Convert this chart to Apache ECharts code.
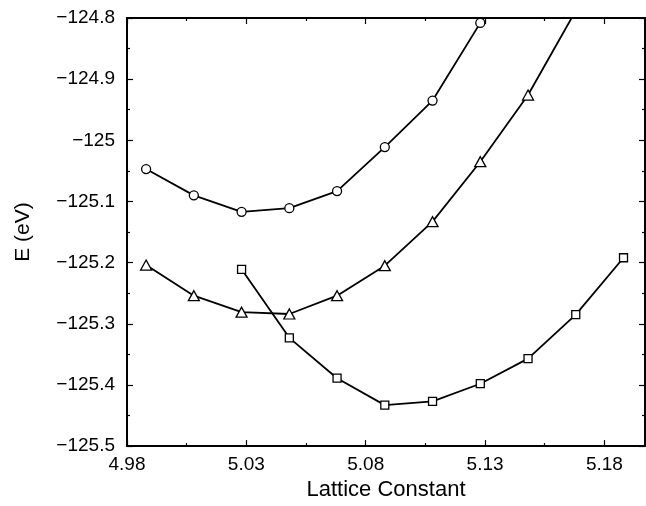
<!DOCTYPE html>
<html>
<head>
<meta charset="utf-8">
<script src="https://cdn.jsdelivr.net/npm/echarts@6/dist/echarts.min.js"></script>
<style>
  html, body { margin: 0; padding: 0; background: #fff; }
  #chart { width: 646px; height: 506px; }
</style>
</head>
<body>
<div id="chart"></div>
<script>
// lattice constants where each curve was sampled
var xCircle = [4.988, 5.008, 5.028, 5.048, 5.068, 5.088, 5.108, 5.128]
var yCircle = [-125.047, -125.090, -125.117, -125.111, -125.083, -125.011, -124.935, -124.808]

var xTriangle = [4.988, 5.008, 5.028, 5.048, 5.068, 5.088, 5.108, 5.128, 5.148, 5.168]
var yTriangle = [-125.204, -125.254, -125.281, -125.284, -125.254, -125.205, -125.133, -125.035, -124.926, -124.788]

var xSquare = [5.028, 5.048, 5.068, 5.088, 5.108, 5.128, 5.148, 5.168, 5.188]
var ySquare = [-125.211, -125.323, -125.389, -125.433, -125.427, -125.398, -125.357, -125.285, -125.192]

var xTicks = [4.98, 5.03, 5.08, 5.13, 5.18]
var yTicks = [-125.5, -125.4, -125.3, -125.2, -125.1, -125, -124.9, -124.8]

function pairs(xs, ys) {
  return xs.map(function (x, i) { return [x, ys[i]] })
}

var FONT = '"Liberation Sans", Arial, Helvetica, sans-serif'
var chart = echarts.init(document.getElementById('chart'))

var axisLine = { show: true, onZero: false, lineStyle: { color: '#000', width: 2 } }
var tick = { show: true, inside: true, length: 6, lineStyle: { color: '#000', width: 1.2 } }
var minor = { show: true, splitNumber: 2, length: 3, lineStyle: { color: '#000', width: 1.2 } }

function markerSeries(name, symbol, size, xs, ys) {
  return {
    name: name,
    type: 'line',
    data: pairs(xs, ys),
    clip: true,
    symbol: symbol,
    symbolSize: size,
    showAllSymbol: true,
    lineStyle: { color: '#000', width: 1.8 },
    itemStyle: { color: '#fff', borderColor: '#000', borderWidth: 1.3 },
    emphasis: { disabled: true },
    z: 3
  }
}

var option = {
  animation: false,
  backgroundColor: '#fff',
  grid: { left: 127, right: 1, top: 18, bottom: 51 },
  xAxis: [{
    type: 'value',
    position: 'bottom',
    min: 4.98,
    max: 5.197,
    interval: 0.05,
    name: 'Lattice Constant',
    nameLocation: 'middle',
    nameGap: 32,
    nameTextStyle: { fontFamily: FONT, fontSize: 22, color: '#000' },
    axisLine: axisLine,
    axisTick: tick,
    minorTick: minor,
    splitLine: { show: false },
    axisLabel: {
      fontFamily: FONT, fontSize: 19, color: '#000', margin: 9,
      showMaxLabel: false,
      formatter: function (v) {
        var hit = xTicks.filter(function (t) { return Math.abs(t - v) < 1e-6 })
        return hit.length ? hit[0].toFixed(2) : ''
      }
    }
  }, {
    type: 'value',
    position: 'top',
    min: 4.98,
    max: 5.197,
    interval: 0.05,
    axisLine: axisLine,
    axisTick: tick,
    minorTick: minor,
    splitLine: { show: false },
    axisLabel: { show: false }
  }],
  yAxis: [{
    type: 'value',
    position: 'left',
    min: -125.5,
    max: -124.8,
    interval: 0.1,
    name: 'E (eV)',
    nameLocation: 'middle',
    nameGap: 93,
    nameTextStyle: { fontFamily: FONT, fontSize: 21, color: '#000' },
    axisLine: axisLine,
    axisTick: tick,
    minorTick: minor,
    splitLine: { show: false },
    axisLabel: {
      fontFamily: FONT, fontSize: 19, color: '#000', margin: 12,
      formatter: function (v) {
        var hit = yTicks.filter(function (t) { return Math.abs(t - v) < 1e-6 })
        return hit.length ? String(hit[0]).replace('-', '\u2212') : ''
      }
    }
  }, {
    type: 'value',
    position: 'right',
    min: -125.5,
    max: -124.8,
    interval: 0.1,
    axisLine: axisLine,
    axisTick: tick,
    minorTick: minor,
    splitLine: { show: false },
    axisLabel: { show: false }
  }],
  series: [
    markerSeries('circle', 'circle', 9, xCircle, yCircle),
    markerSeries('triangle', 'triangle', [11, 10], xTriangle, yTriangle),
    markerSeries('square', 'rect', 8, xSquare, ySquare)
  ]
}

chart.setOption(option)
</script>
</body>
</html>
